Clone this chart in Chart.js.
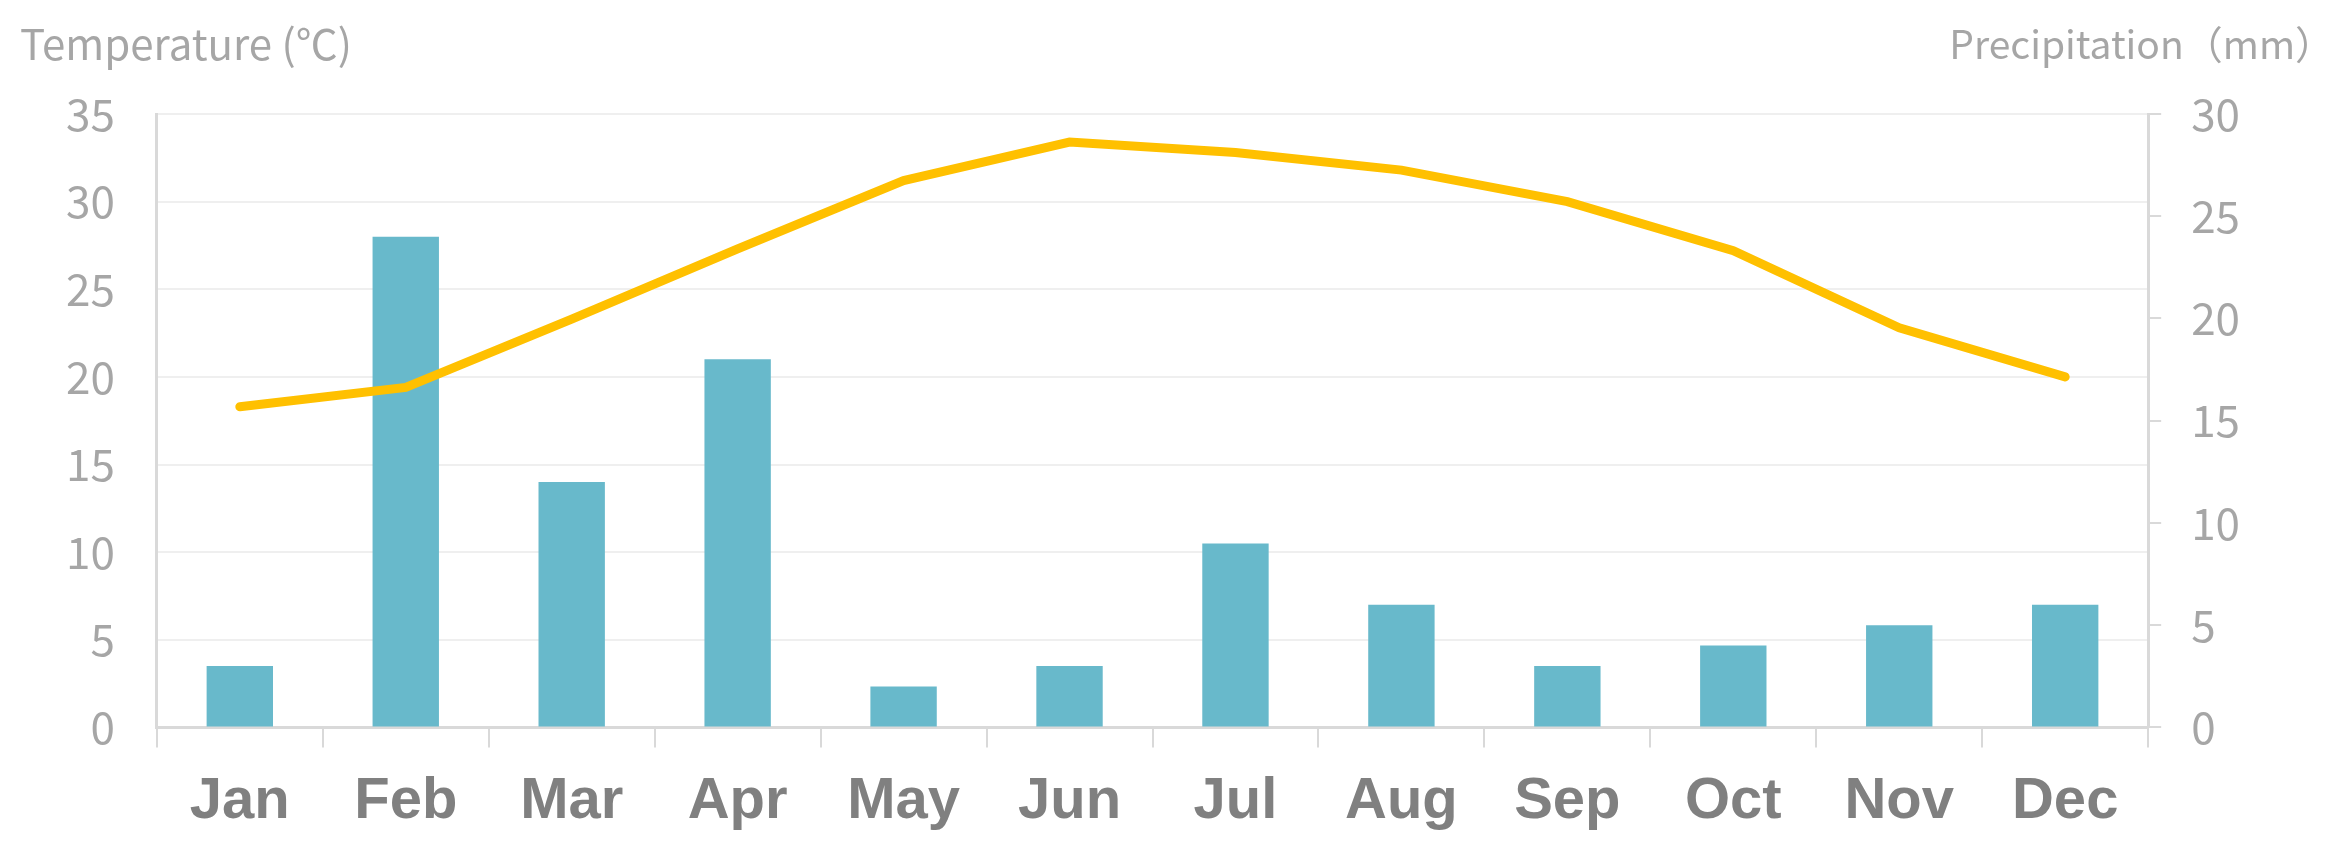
<!DOCTYPE html>
<html>
<head>
<meta charset="utf-8">
<script src="https://cdn.jsdelivr.net/npm/chart.js@4/dist/chart.umd.min.js"></script>
<style>
  html, body { margin: 0; padding: 0; background: #fff; }
  #wrap { width: 2332px; height: 857px; position: relative; }
</style>
</head>
<body>
<div id="wrap"><canvas id="chart_root"></canvas></div>
<script>
const months = ['Jan', 'Feb', 'Mar', 'Apr', 'May', 'Jun', 'Jul', 'Aug', 'Sep', 'Oct', 'Nov', 'Dec'];
const temperature = [18.3, 19.4, 23.3, 27.3, 31.2, 33.4, 32.8, 31.8, 30.0, 27.2, 22.8, 20.0];
const precipitation = [3, 24, 12, 18, 2, 3, 9, 6, 3, 4, 5, 6];
const tempTitle = 'Temperature (℃)';
const rainTitle = 'Precipitation（mm）';

const tickFont = { family: "'Noto Sans CJK JP', 'Noto Sans', sans-serif", size: 44 };
const tickGray = '#a6a6a6';

// axis titles sit above the axes, not beside them
const axisTitles = {
  id: 'axisTitles',
  afterDraw(chart) {
    const ctx = chart.ctx;
    ctx.save();
    ctx.fillStyle = tickGray;
    ctx.textBaseline = 'middle';
    ctx.font = "42px 'Noto Sans CJK JP', sans-serif";
    ctx.textAlign = 'left';
    ctx.fillText(tempTitle, 20, 44);
    ctx.font = "39px 'Noto Sans CJK JP', sans-serif";
    ctx.textAlign = 'right';
    ctx.fillText(rainTitle, 2334, 44);
    ctx.restore();
  }
};

new Chart(document.getElementById('chart_root'), {
  data: {
    labels: months,
    datasets: [
      {
        type: 'line',
        label: 'Temperature',
        data: temperature,
        yAxisID: 'y',
        borderColor: '#ffc000',
        borderWidth: 9,
        borderCapStyle: 'round',
        pointRadius: 0,
        tension: 0,
        order: 0
      },
      {
        type: 'bar',
        label: 'Precipitation',
        data: precipitation,
        yAxisID: 'y1',
        backgroundColor: '#68b9cb',
        barPercentage: 0.4,
        categoryPercentage: 1,
        order: 1
      }
    ]
  },
  options: {
    responsive: true,
    maintainAspectRatio: false,
    animation: false,
    layout: { padding: { top: 114, left: 24, right: 62, bottom: 0 } },
    plugins: { legend: { display: false }, tooltip: { enabled: false } },
    scales: {
      x: {
        grid: { drawOnChartArea: false, color: '#d9d9d9', lineWidth: 2, tickLength: 20 },
        border: { color: '#d9d9d9', width: 3 },
        ticks: {
          color: '#808080',
          padding: 20,
          font: { family: "'Liberation Sans', Arial, sans-serif", size: 58, weight: 'bold' }
        }
      },
      y: {
        position: 'left',
        min: 0,
        max: 35,
        ticks: { stepSize: 5, color: tickGray, padding: 42, font: tickFont },
        grid: { color: '#efefef', lineWidth: 2, drawTicks: false },
        border: { color: '#d9d9d9', width: 3 }
      },
      y1: {
        position: 'right',
        min: 0,
        max: 30,
        ticks: { stepSize: 5, color: tickGray, padding: 30, font: tickFont },
        grid: { drawOnChartArea: false, color: '#d9d9d9', lineWidth: 2, tickLength: 13 },
        border: { color: '#d9d9d9', width: 3 }
      }
    }
  },
  plugins: [axisTitles]
});
</script>
</body>
</html>
